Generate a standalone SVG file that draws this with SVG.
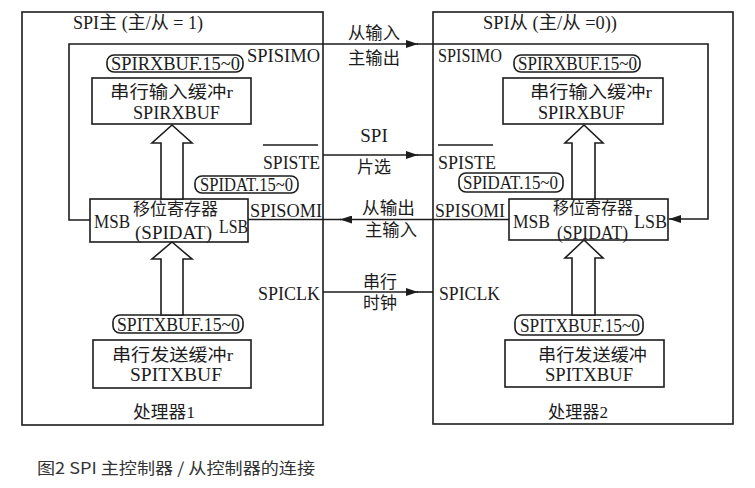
<svg xmlns="http://www.w3.org/2000/svg" width="755" height="488" viewBox="0 0 755 488">
<style>
.ln{fill:none;stroke:#1c1c1c;stroke-width:1.6}
.bx{fill:#fff;stroke:#1c1c1c;stroke-width:1.6}
.ha{fill:#fff;stroke:#1c1c1c;stroke-width:1.6;stroke-linejoin:miter}
.t{font-family:"Liberation Serif","Noto Sans CJK SC",serif;font-size:17px;fill:#1c1c1c}
.l{font-size:19px}
.h{font-size:18px}
.m{text-anchor:middle}
.cap{font-family:"Noto Sans CJK SC","Noto Sans",sans-serif;font-size:16px;fill:#333}
</style>
<defs>
<marker id="ah" viewBox="0 0 12 8" refX="12" refY="4" markerWidth="12" markerHeight="8" markerUnits="userSpaceOnUse" orient="auto">
<path d="M0,0 L12,4 L0,8 Z" fill="#1c1c1c"/>
</marker>
</defs>
<rect width="755" height="488" fill="#fff"/>

<g id="proc1">
<rect class="ln" x="22" y="12" width="301" height="413"/>
<text class="t h" x="73" y="29" textLength="130" lengthAdjust="spacingAndGlyphs">SPI主 (主/从 = 1)</text>
<text class="t" x="133" y="418" textLength="62" lengthAdjust="spacingAndGlyphs">处理器1</text>
<text class="t l" x="247" y="62" textLength="73" lengthAdjust="spacingAndGlyphs">SPISIMO</text>
<line class="ln" x1="263" y1="145" x2="318" y2="145"/>
<text class="t l" x="263" y="169" textLength="57" lengthAdjust="spacingAndGlyphs">SPISTE</text>
<text class="t l" x="250" y="217" textLength="72" lengthAdjust="spacingAndGlyphs">SPISOMI</text>
<text class="t l" x="258" y="300" textLength="62" lengthAdjust="spacingAndGlyphs">SPICLK</text>
</g>

<g id="rxbuf1">
<rect class="bx" x="107" y="55" width="136" height="17" rx="7"/>
<text class="t l" x="111" y="70" textLength="129" lengthAdjust="spacingAndGlyphs">SPIRXBUF.15~0</text>
<rect class="bx" x="92" y="78" width="159" height="46"/>
<text class="t" x="110" y="98" textLength="123" lengthAdjust="spacingAndGlyphs">串行输入缓冲r</text>
<text class="t l" x="133" y="119" textLength="87" lengthAdjust="spacingAndGlyphs">SPIRXBUF</text>
</g>

<g id="spidat1">
<rect class="bx" x="195" y="176" width="103" height="17" rx="7"/>
<text class="t l" x="200" y="191" textLength="93" lengthAdjust="spacingAndGlyphs">SPIDAT.15~0</text>
<rect class="bx" x="90" y="199" width="158" height="43"/>
<text class="t l" x="94" y="228" textLength="36" lengthAdjust="spacingAndGlyphs">MSB</text>
<text class="t" x="133" y="215" textLength="85" lengthAdjust="spacingAndGlyphs">移位寄存器</text>
<text class="t l" x="135" y="239" textLength="77" lengthAdjust="spacingAndGlyphs">(SPIDAT)</text>
<text class="t l" x="219" y="233" textLength="29" lengthAdjust="spacingAndGlyphs">LSB</text>
</g>

<g id="txbuf1">
<rect class="bx" x="113" y="315" width="130" height="18" rx="7"/>
<text class="t l" x="117" y="331" textLength="123" lengthAdjust="spacingAndGlyphs">SPITXBUF.15~0</text>
<rect class="bx" x="93" y="340" width="158" height="48"/>
<text class="t" x="112" y="361" textLength="121" lengthAdjust="spacingAndGlyphs">串行发送缓冲r</text>
<text class="t h" x="130" y="381" textLength="92" lengthAdjust="spacingAndGlyphs">SPITXBUF</text>
</g>

<g id="proc2">
<rect class="ln" x="433" y="12" width="300" height="412"/>
<text class="t h" x="483" y="29" textLength="134" lengthAdjust="spacingAndGlyphs">SPI从 (主/从 =0))</text>
<text class="t" x="548" y="418" textLength="60" lengthAdjust="spacingAndGlyphs">处理器2</text>
<text class="t l" x="438" y="62" textLength="64" lengthAdjust="spacingAndGlyphs">SPISIMO</text>
<line class="ln" x1="438" y1="145" x2="493" y2="145"/>
<text class="t l" x="438" y="169" textLength="58" lengthAdjust="spacingAndGlyphs">SPISTE</text>
<text class="t l" x="435" y="217" textLength="70" lengthAdjust="spacingAndGlyphs">SPISOMI</text>
<text class="t l" x="439" y="300" textLength="61" lengthAdjust="spacingAndGlyphs">SPICLK</text>
</g>

<g id="rxbuf2">
<rect class="bx" x="514" y="55" width="126" height="17" rx="7"/>
<text class="t l" x="518" y="70" textLength="119" lengthAdjust="spacingAndGlyphs">SPIRXBUF.15~0</text>
<rect class="bx" x="503" y="78" width="160" height="46"/>
<text class="t" x="530" y="98" textLength="122" lengthAdjust="spacingAndGlyphs">串行输入缓冲r</text>
<text class="t l" x="538" y="119" textLength="87" lengthAdjust="spacingAndGlyphs">SPIRXBUF</text>
</g>

<g id="spidat2">
<rect class="bx" x="459" y="173" width="104" height="19" rx="7"/>
<text class="t l" x="463" y="189" textLength="95" lengthAdjust="spacingAndGlyphs">SPIDAT.15~0</text>
<rect class="bx" x="509" y="199" width="159" height="41"/>
<text class="t l" x="513" y="228" textLength="37" lengthAdjust="spacingAndGlyphs">MSB</text>
<text class="t" x="553" y="214" textLength="80" lengthAdjust="spacingAndGlyphs">移位寄存器</text>
<text class="t l" x="557" y="239" textLength="71" lengthAdjust="spacingAndGlyphs">(SPIDAT)</text>
<text class="t l" x="634" y="228" textLength="33" lengthAdjust="spacingAndGlyphs">LSB</text>
</g>

<g id="txbuf2">
<rect class="bx" x="515" y="315" width="128" height="20" rx="7"/>
<text class="t l" x="520" y="332" textLength="120" lengthAdjust="spacingAndGlyphs">SPITXBUF.15~0</text>
<rect class="bx" x="505" y="340" width="159" height="47"/>
<text class="t" x="538" y="361" textLength="109" lengthAdjust="spacingAndGlyphs">串行发送缓冲</text>
<text class="t h" x="545" y="381" textLength="88" lengthAdjust="spacingAndGlyphs">SPITXBUF</text>
</g>

<g id="connectors">
<polygon class="ha" points="172,125 192,143 183,143 183,199 161,199 161,143 152,143"/>
<polygon class="ha" points="172,242 192,259 183,259 183,315 161,315 161,259 152,259"/>
<polygon class="ha" points="584,125 603,143 595,143 595,199 572,199 572,143 565,143"/>
<polygon class="ha" points="584,240 603,258 595,258 595,315 572,315 572,258 565,258"/>
<path class="ln" d="M90,220 H69 V44 H418" marker-end="url(#ah)"/>
<path class="ln" d="M417,44 H708 V219 H669" marker-end="url(#ah)"/>
<path class="ln" d="M323,155 H418" marker-end="url(#ah)"/>
<path class="ln" d="M417,155 H433"/>
<path class="ln" d="M509,219.5 H340" marker-end="url(#ah)"/>
<path class="ln" d="M341,219.5 H248"/>
<path class="ln" d="M323,292 H418" marker-end="url(#ah)"/>
<path class="ln" d="M417,292 H433"/>
<text class="t" x="348" y="39" textLength="52" lengthAdjust="spacingAndGlyphs">从输入</text>
<text class="t" x="348" y="64" textLength="52" lengthAdjust="spacingAndGlyphs">主输出</text>
<text class="t l m" x="374" y="142">SPI</text>
<text class="t m" x="374" y="173">片选</text>
<text class="t" x="362" y="214" textLength="53" lengthAdjust="spacingAndGlyphs">从输出</text>
<text class="t" x="365" y="236" textLength="52" lengthAdjust="spacingAndGlyphs">主输入</text>
<text class="t m" x="380" y="288">串行</text>
<text class="t m" x="380" y="309">时钟</text>
</g>

<text class="cap" x="37" y="474" textLength="278" lengthAdjust="spacingAndGlyphs">图2 SPI 主控制器 / 从控制器的连接</text>
</svg>
